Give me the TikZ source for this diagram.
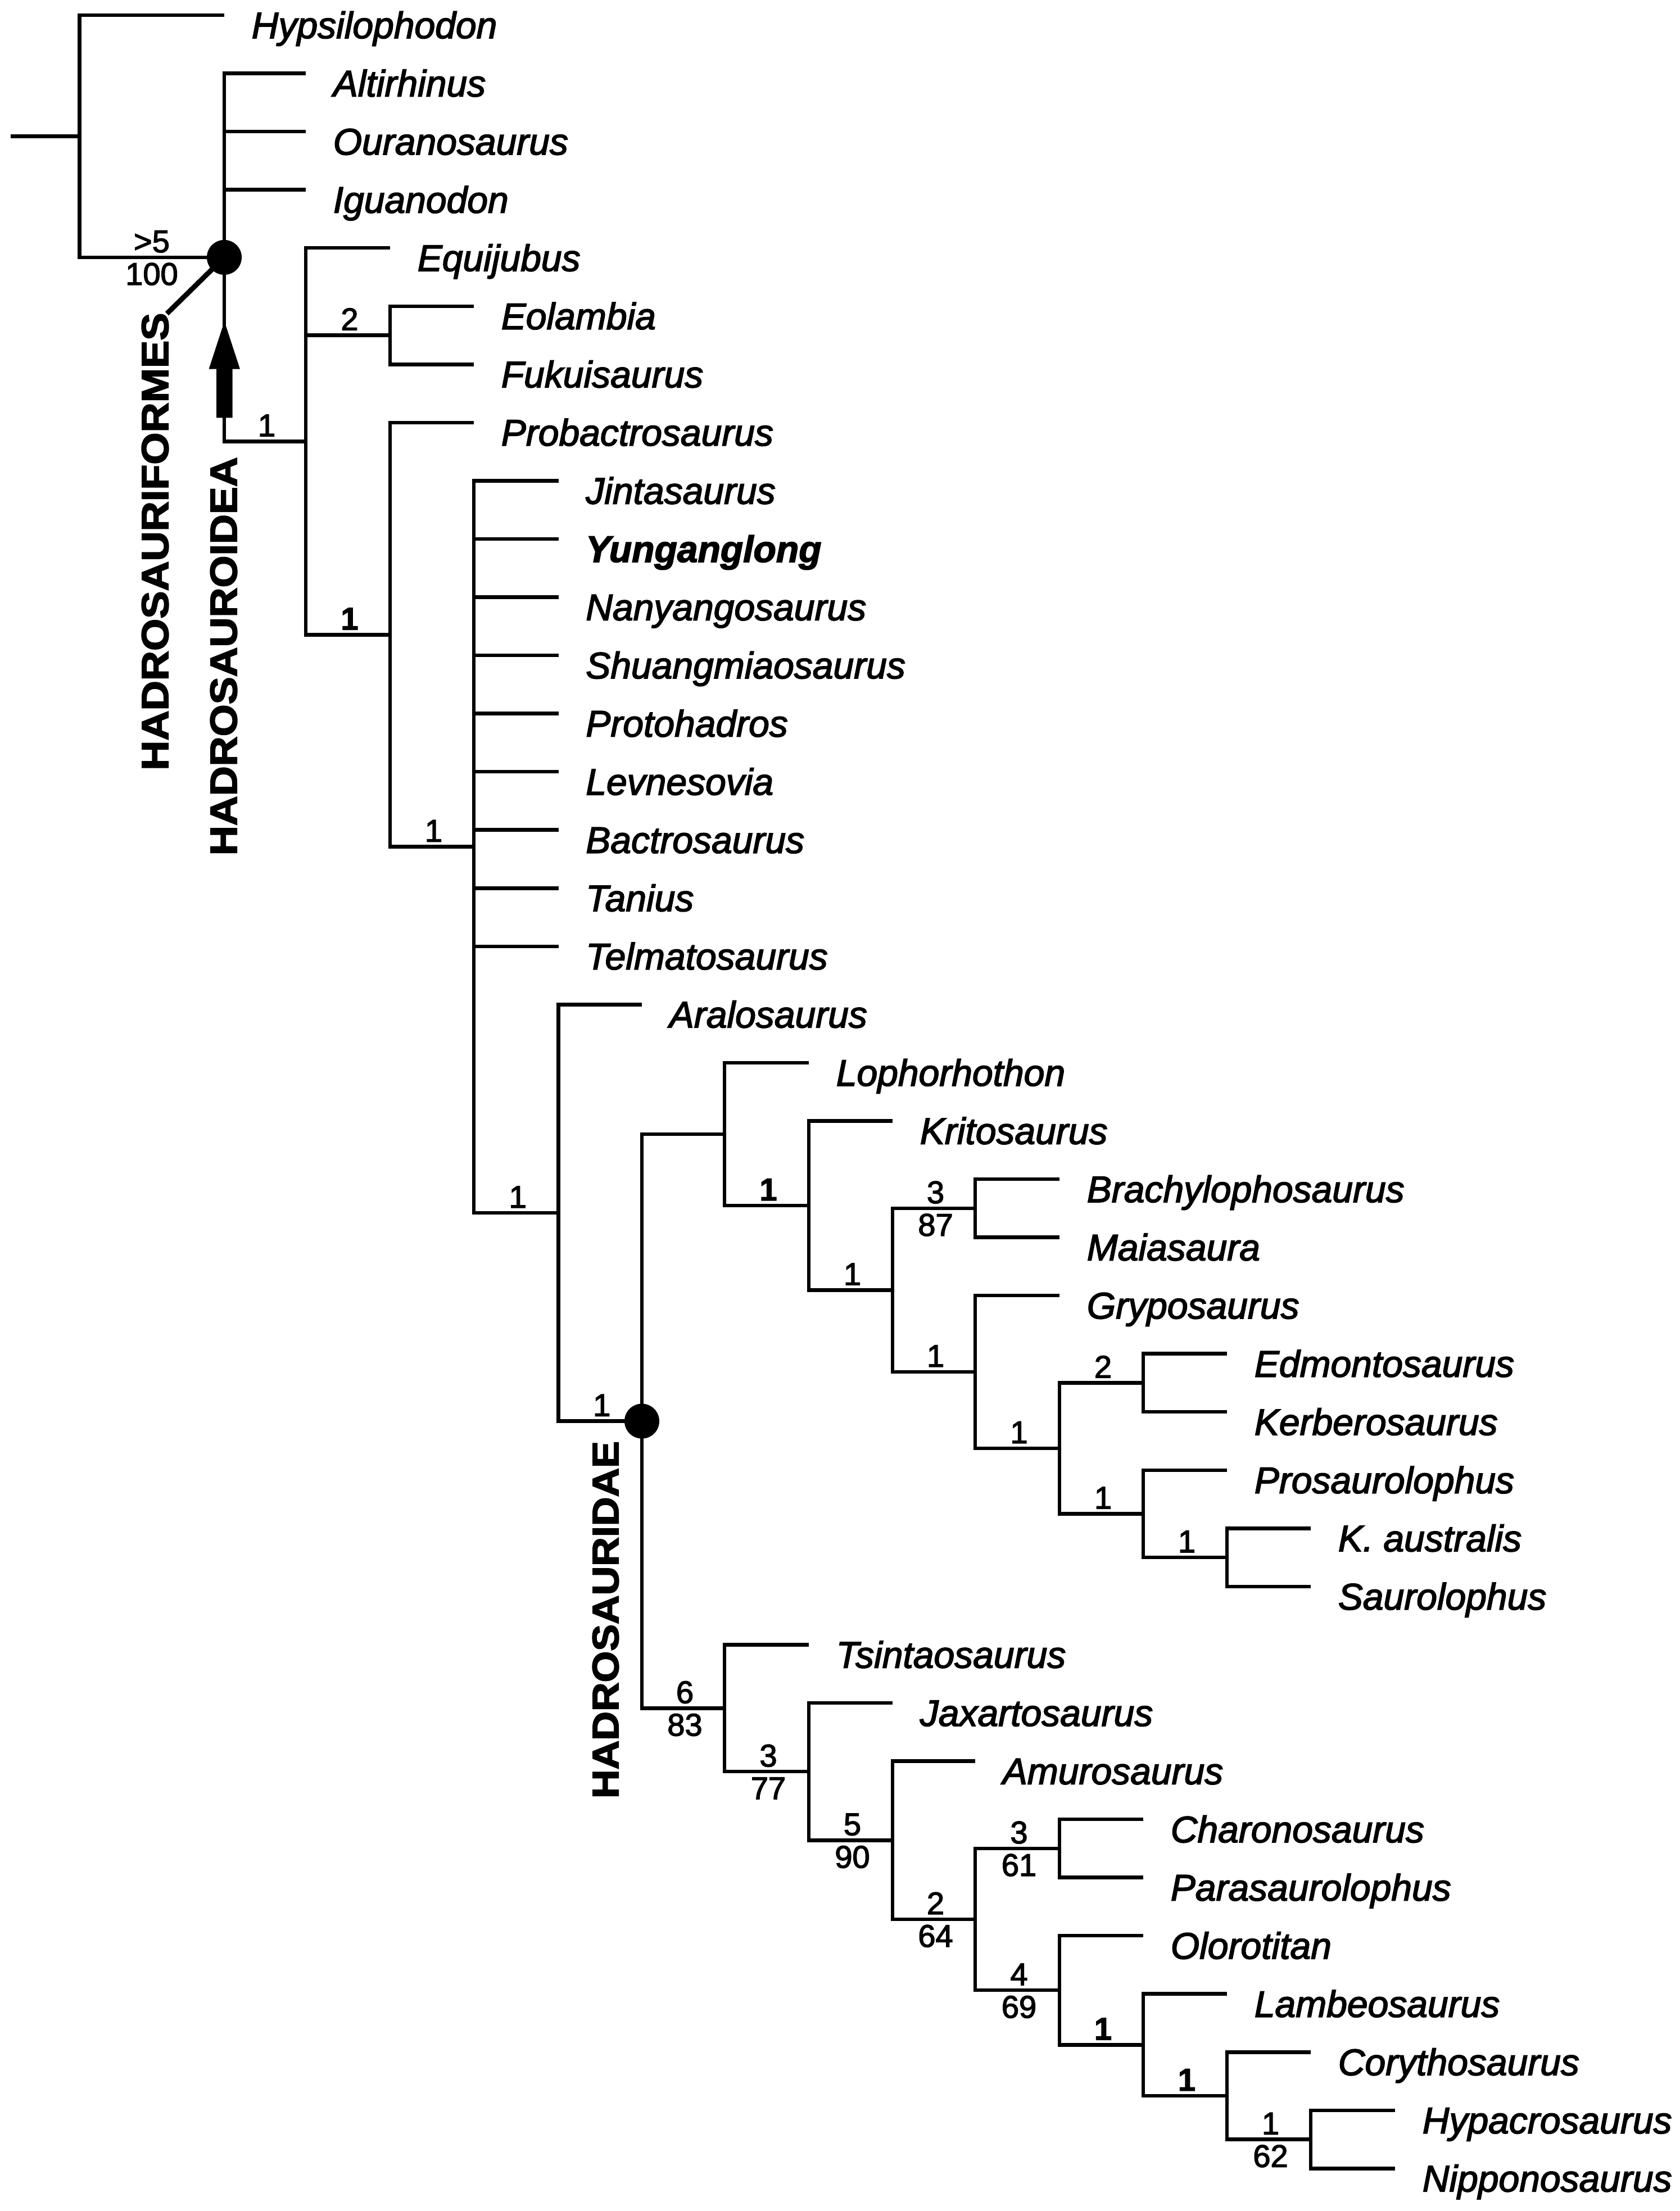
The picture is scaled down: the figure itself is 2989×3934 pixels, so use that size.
\documentclass[tikz,border=0pt]{standalone}
\usepackage{fontspec}
\setmainfont{Liberation Sans}
\newfontfamily\tx{Liberation Sans}[FakeBold=2.5]
\usepackage{graphicx}
\newcommand\taxon[6]{%
  \coordinate (e#1) at (#3,#4);
  \draw[branch] (#2) |- (e#1);
  \node[#5] (t#1) at ({#3+48},{#4+41}) {#6};}
\newcommand\clade[4]{%
  \coordinate (#1) at (#3,#4);
  \draw[branch] (#2) |- (#1);}
\newcommand\labup[5]{\node[#4] (#1) at ({#2+3},{#3-9}) {#5};}
\newcommand\labdn[5]{\node[#4] (#1) at ({#2+3},{#3+49}) {#5};}
\begin{document}
\begin{tikzpicture}[x=0.25pt,y=-0.25pt,
  branch/.style={line width=1.625pt},
  taxon/.style={anchor=base west,inner sep=0pt,font=\fontsize{16.5pt}{19pt}\tx\itshape},
  taxonb/.style={anchor=base west,inner sep=0pt,font=\fontsize{16.5pt}{19pt}\tx\bfseries\itshape},
  lab/.style={anchor=base,inner sep=0pt,font=\fontsize{14pt}{16pt}\tx},
  labb/.style={anchor=base,inner sep=0pt,font=\fontsize{14pt}{16pt}\tx\bfseries},
  cladelab/.style={rotate=90,inner sep=0pt,anchor=center,font=\tx\bfseries}]
\fill[white] (0,0) rectangle (2989,3934);
\useasboundingbox (0,0) rectangle (2989,3934);
% root
\coordinate (root) at (141.6,242.5);
\coordinate (stub) at (19,242.5);
\draw[branch] (stub) -- (root);
\taxon{hyp}{root}{399}{27}{taxon}{Hypsilophodon}
\clade{A}{root}{399}{457.9}
\taxon{alt}{A}{544}{130.55}{taxon}{Altirhinus}
\taxon{our}{A}{544}{234.1}{taxon}{Ouranosaurus}
\taxon{igu}{A}{544}{337.65}{taxon}{Iguanodon}
\clade{B}{A}{544}{785.3}
\taxon{equ}{B}{694}{441.2}{taxon}{Equijubus}
\clade{C}{B}{694}{596.5}
\taxon{eol}{C}{843}{544.75}{taxon}{Eolambia}
\taxon{fuk}{C}{843}{648.3}{taxon}{Fukuisaurus}
\clade{D}{B}{694}{1129.3}
\taxon{prb}{D}{843}{751.85}{taxon}{Probactrosaurus}
\clade{E}{D}{843}{1506.7}
\taxon{jin}{E}{993.5}{855.4}{taxon}{Jintasaurus}
\taxon{yun}{E}{993.5}{958.95}{taxonb}{Yunganglong}
\taxon{nan}{E}{993.5}{1062.5}{taxon}{Nanyangosaurus}
\taxon{shu}{E}{993.5}{1166.05}{taxon}{Shuangmiaosaurus}
\taxon{pro}{E}{993.5}{1269.6}{taxon}{Protohadros}
\taxon{lev}{E}{993.5}{1373.15}{taxon}{Levnesovia}
\taxon{bac}{E}{993.5}{1476.7}{taxon}{Bactrosaurus}
\taxon{tan}{E}{993.5}{1580.25}{taxon}{Tanius}
\taxon{tel}{E}{993.5}{1683.8}{taxon}{Telmatosaurus}
\clade{F}{E}{993.5}{2158}
\taxon{ara}{F}{1142}{1787.35}{taxon}{Aralosaurus}
\clade{G}{F}{1142}{2528.6}
\clade{H}{G}{1289}{2017.9}
\taxon{lop}{H}{1439}{1890.9}{taxon}{Lophorhothon}
\clade{J}{H}{1439}{2144.9}
\taxon{kri}{J}{1588}{1994.45}{taxon}{Kritosaurus}
\clade{K}{J}{1588}{2295.4}
\clade{M}{K}{1735}{2149.8}
\taxon{bra}{M}{1885}{2098}{taxon}{Brachylophosaurus}
\taxon{mai}{M}{1885}{2201.55}{taxon}{Maiasaura}
\clade{N}{K}{1735}{2441}
\taxon{gry}{N}{1885}{2305.1}{taxon}{Gryposaurus}
\clade{O}{N}{1885}{2576.9}
\clade{P}{O}{2034}{2460.4}
\taxon{edm}{P}{2183}{2408.65}{taxon}{Edmontosaurus}
\taxon{ker}{P}{2183}{2512.2}{taxon}{Kerberosaurus}
\clade{Q}{O}{2034}{2693.4}
\taxon{prs}{Q}{2183}{2615.75}{taxon}{Prosaurolophus}
\clade{R}{Q}{2183}{2771.1}
\taxon{kau}{R}{2332}{2719.3}{taxon}{K. australis}
\taxon{sau}{R}{2332}{2822.85}{taxon}{Saurolophus}
\clade{I}{G}{1289}{3039.3}
\taxon{tsi}{I}{1439}{2926.4}{taxon}{Tsintaosaurus}
\clade{S}{I}{1439}{3152.1}
\taxon{jax}{S}{1588}{3029.95}{taxon}{Jaxartosaurus}
\clade{T}{S}{1588}{3274.3}
\taxon{amu}{T}{1735}{3133.5}{taxon}{Amurosaurus}
\clade{U}{T}{1735}{3415}
\clade{V}{U}{1885}{3288.8}
\taxon{cha}{V}{2034}{3237.05}{taxon}{Charonosaurus}
\taxon{par}{V}{2034}{3340.6}{taxon}{Parasaurolophus}
\clade{W}{U}{1885}{3541.2}
\taxon{olo}{W}{2034}{3444.15}{taxon}{Olorotitan}
\clade{X}{W}{2034}{3638.3}
\taxon{lam}{X}{2183}{3547.7}{taxon}{Lambeosaurus}
\clade{Y}{X}{2183}{3728.9}
\taxon{cor}{Y}{2332}{3651.25}{taxon}{Corythosaurus}
\clade{Z}{Y}{2332}{3806.6}
\taxon{hyc}{Z}{2482}{3754.8}{taxon}{Hypacrosaurus}
\taxon{nip}{Z}{2482}{3858.35}{taxon}{Nipponosaurus}
% support labels
\labup{lAu}{267}{457.9}{lab}{>5}
\labdn{lAd}{267}{457.9}{lab}{100}
\labup{lB}{471.5}{785.3}{lab}{1}
\labup{lC}{619}{596.5}{lab}{2}
\labup{lD}{619}{1129.3}{labb}{1}
\labup{lE}{768.5}{1506.7}{lab}{1}
\labup{lF}{918.25}{2158}{lab}{1}
\labup{lG}{1067.75}{2528.6}{lab}{1}
\labup{lJ}{1364}{2144.9}{labb}{1}
\labup{lK}{1513.5}{2295.4}{lab}{1}
\labup{lMu}{1661.5}{2149.8}{lab}{3}
\labdn{lMd}{1661.5}{2149.8}{lab}{87}
\labup{lN}{1661.5}{2441}{lab}{1}
\labup{lO}{1810}{2576.9}{lab}{1}
\labup{lP}{1959.5}{2460.4}{lab}{2}
\labup{lQ}{1959.5}{2693.4}{lab}{1}
\labup{lR}{2108.5}{2771.1}{lab}{1}
\labup{lIu}{1215.5}{3039.3}{lab}{6}
\labdn{lId}{1215.5}{3039.3}{lab}{83}
\labup{lSu}{1364}{3152.1}{lab}{3}
\labdn{lSd}{1364}{3152.1}{lab}{77}
\labup{lTu}{1513.5}{3274.3}{lab}{5}
\labdn{lTd}{1513.5}{3274.3}{lab}{90}
\labup{lUu}{1661.5}{3415}{lab}{2}
\labdn{lUd}{1661.5}{3415}{lab}{64}
\labup{lVu}{1810}{3288.8}{lab}{3}
\labdn{lVd}{1810}{3288.8}{lab}{61}
\labup{lWu}{1810}{3541.2}{lab}{4}
\labdn{lWd}{1810}{3541.2}{lab}{69}
\labup{lX}{1959.5}{3638.3}{labb}{1}
\labup{lY}{2108.5}{3728.9}{labb}{1}
\labup{lZu}{2257.5}{3806.6}{lab}{1}
\labdn{lZd}{2257.5}{3806.6}{lab}{62}
% clade markers
\fill (A) circle[radius=7.75pt];
\fill (G) circle[radius=7.75pt];
\coordinate (diagend) at (297,558);
\draw[line width=2.25pt] (A) -- (diagend);
\fill (399.3,571.7) -- (427,656.7) -- (413.6,656.7) -- (413.6,743.3)
  -- (385,743.3) -- (385,656.7) -- (371.6,656.7) -- cycle;
% clade names
\node[cladelab] (hform) at (276,963.6) {\resizebox{203.5pt}{11.75pt}{HADROSAURIFORMES}};
\node[cladelab] (hoid) at (398,1167.6) {\resizebox{177.2pt}{11.75pt}{HADROSAUROIDEA}};
\node[cladelab] (hidae) at (1077.5,2882) {\resizebox{159pt}{11.5pt}{HADROSAURIDAE}};
\end{tikzpicture}
\end{document}
